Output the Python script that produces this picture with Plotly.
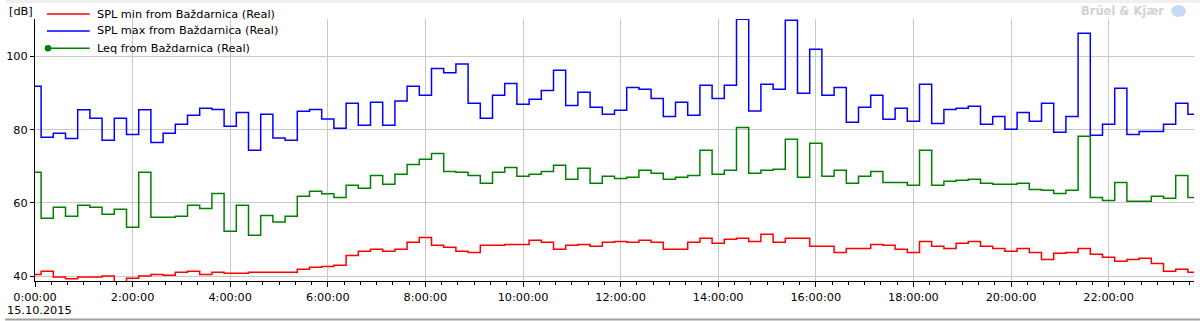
import plotly.graph_objects as go
import pandas as pd

# ---- data (15-minute values, 15.10.2015) ----
times = pd.date_range("2015-10-15 00:00", periods=96, freq="15min")

spl_min = [40.5, 41.4, 39.8, 39.3, 39.8, 39.8, 40.1, 38.0, 39.5, 40.1,
           40.5, 40.3, 41.1, 41.4, 40.5, 41.1, 40.8, 40.8, 41.1, 41.1,
           41.1, 41.1, 41.9, 42.5, 42.7, 43.0, 45.7, 46.8, 47.4, 46.8,
           47.4, 49.3, 50.6, 48.5, 47.9, 46.8, 46.5, 48.5, 48.5, 48.7,
           48.7, 49.8, 49.3, 47.4, 48.5, 48.7, 48.2, 49.3, 49.5, 49.3,
           49.8, 49.3, 47.4, 47.4, 49.3, 50.4, 49.0, 50.1, 50.4, 49.5,
           51.5, 49.3, 50.4, 50.4, 48.2, 48.2, 46.5, 47.6, 47.6, 48.7,
           48.5, 47.4, 46.5, 49.5, 48.2, 47.6, 49.0, 49.5, 48.2, 47.6,
           46.8, 47.6, 46.5, 44.6, 46.3, 46.5, 47.6, 46.0, 45.2, 44.1,
           44.6, 44.9, 43.5, 41.4, 41.9, 41.1]

spl_max = [91.8, 77.9, 79.0, 77.6, 85.4, 83.1, 77.1, 83.1, 78.7, 85.4,
           76.5, 79.0, 81.5, 83.9, 85.8, 85.5, 80.9, 84.7, 74.4, 84.2,
           77.7, 77.1, 85.0, 85.5, 82.9, 80.4, 87.2, 81.2, 87.5, 81.2,
           87.8, 91.8, 89.4, 96.7, 95.5, 97.9, 87.2, 83.1, 89.4, 92.6,
           86.9, 88.3, 90.7, 96.2, 86.6, 90.2, 86.1, 84.2, 85.3, 91.5,
           91.0, 88.5, 83.6, 87.5, 83.9, 92.1, 88.5, 92.1, 110.1, 85.1,
           92.4, 91.0, 109.8, 89.9, 101.9, 89.4, 91.5, 82.0, 86.1, 89.4,
           82.8, 85.8, 82.3, 92.4, 81.7, 85.5, 85.8, 86.4, 81.5, 83.6,
           80.1, 84.7, 82.3, 87.2, 79.3, 83.6, 106.3, 78.5, 81.5, 91.3,
           78.7, 79.5, 79.5, 81.5, 87.2, 84.2]

leq = [68.4, 55.8, 58.8, 56.4, 59.4, 58.8, 56.9, 58.3, 53.4, 68.4,
       56.1, 56.1, 56.4, 59.4, 58.5, 62.6, 52.3, 59.4, 51.2, 56.6,
       54.8, 56.4, 61.8, 63.2, 62.5, 61.5, 64.8, 64.0, 67.5, 65.1,
       67.8, 70.5, 71.9, 73.5, 68.6, 68.4, 67.5, 65.4, 68.4, 69.7,
       67.3, 67.8, 68.6, 70.3, 66.5, 69.5, 65.4, 67.3, 66.7, 67.0,
       68.9, 68.1, 66.5, 67.0, 67.5, 74.4, 67.8, 68.9, 80.6, 68.1,
       68.9, 69.2, 77.4, 67.0, 76.3, 67.3, 68.9, 65.4, 67.3, 68.6,
       65.6, 65.6, 64.8, 74.4, 64.8, 65.9, 66.2, 66.5, 65.4, 65.1,
       65.1, 65.4, 63.7, 63.5, 62.6, 63.5, 78.2, 61.5, 60.7, 65.6,
       60.5, 60.5, 61.8, 61.3, 67.5, 61.5]

series_names = ["SPL min from Baždarnica (Real)",
                "SPL max from Baždarnica (Real)",
                "Leq from Baždarnica (Real)"]
series_colors = ["#ff0000", "#0000ff", "#008000"]
y_ticks = [40, 60, 80, 100]
date_label = "15.10.2015"
unit_label = "[dB]"

# ---- layout geometry ----
W, H = 1200, 321
ML, MR, MT, MB = 30, 6, 19, 40
PW, PH = W - ML - MR, H - MT - MB


def px2x(px):
    return (px - ML) / PW


def px2y(py):
    return (H - MB - py) / PH


FONT = "DejaVu Sans, Verdana, sans-serif"
FS = 11.3

fig = go.Figure()
for vals, name, col in zip([spl_min, spl_max, leq], series_names, series_colors):
    fig.add_trace(go.Scatter(
        x=times, y=vals, name=name, mode="lines",
        line=dict(color=col, width=1.5, shape="hvh"),
        showlegend=False, hoverinfo="x+y+name"))

shapes = []
annotations = []

# manual legend
legend_rows = [14, 31, 48.3]
for name, col, ry in zip(series_names, series_colors, legend_rows):
    shapes.append(dict(type="line", xref="paper", yref="paper",
                       x0=px2x(42), x1=px2x(85), y0=px2y(ry), y1=px2y(ry),
                       line=dict(color=col, width=1.5)))
    annotations.append(dict(text=name, xref="paper", yref="paper",
                            x=px2x(90), y=px2y(ry), xanchor="left", yanchor="middle",
                            showarrow=False, font=dict(family=FONT, size=FS, color="#000000")))
# marker dot for Leq
shapes.append(dict(type="circle", xref="paper", yref="paper",
                   x0=px2x(39.8), x1=px2x(46.4), y0=px2y(44.9), y1=px2y(51.5),
                   fillcolor="#008000", line=dict(color="#008000", width=0)))

# unit label
annotations.append(dict(text=unit_label, xref="paper", yref="paper",
                        x=px2x(2), y=px2y(12), xanchor="left", yanchor="middle",
                        showarrow=False, font=dict(family=FONT, size=FS, color="#000000")))
# date label
annotations.append(dict(text=date_label, xref="paper", yref="paper",
                        x=px2x(0), y=px2y(310), xanchor="left", yanchor="middle",
                        showarrow=False, font=dict(family=FONT, size=FS, color="#000000")))
# watermark
annotations.append(dict(text="<b>Brüel &amp; Kjær</b>", xref="paper", yref="paper",
                        x=px2x(1166), y=px2y(11), xanchor="right", yanchor="middle",
                        showarrow=False, font=dict(family=FONT, size=11.5, color="#d2d2d2")))
shapes.append(dict(type="circle", xref="paper", yref="paper",
                   x0=px2x(1171), x1=px2x(1186), y0=px2y(5), y1=px2y(17),
                   fillcolor="#c6daf5", line=dict(width=0), layer="above"))
# top band and bottom border
shapes.append(dict(type="rect", xref="paper", yref="paper",
                   x0=px2x(0), x1=px2x(W), y0=px2y(0), y1=px2y(3),
                   fillcolor="#f0f0f0", line=dict(width=0), layer="below"))
shapes.append(dict(type="line", xref="paper", yref="paper",
                   x0=px2x(0), x1=px2x(W), y0=px2y(319.5), y1=px2y(319.5),
                   line=dict(color="#a0a0a0", width=2)))

fig.update_layout(
    width=W, height=H,
    margin=dict(l=ML, r=MR, t=MT, b=MB, pad=0),
    paper_bgcolor="#ffffff", plot_bgcolor="#ffffff",
    font=dict(family=FONT, size=FS, color="#000000"),
    shapes=shapes, annotations=annotations,
    showlegend=False,
)
fig.update_xaxes(
    type="date",
    range=[times[0], times[-1]],
    tick0="2015-10-15 00:00", dtick=2 * 3600 * 1000,
    tickformat="%-H:%M:%S",
    showgrid=True, gridcolor="#c8c8c8", gridwidth=1,
    showline=True, linecolor="#000000", linewidth=1,
    ticks="outside", ticklen=5, tickcolor="#000000",
    minor=dict(dtick=20 * 60 * 1000, ticks="outside", ticklen=3,
               tickcolor="#000000", showgrid=False),
    tickfont=dict(family=FONT, size=FS, color="#000000"),
    zeroline=False,
)
fig.update_yaxes(
    range=[38.72, 110.17],
    tickvals=y_ticks,
    showgrid=True, gridcolor="#c8c8c8", gridwidth=1,
    showline=True, linecolor="#000000", linewidth=1,
    ticks="outside", ticklen=4, tickcolor="#000000",
    tickfont=dict(family=FONT, size=FS, color="#000000"),
    zeroline=False,
)

fig.write_html("out.html")
